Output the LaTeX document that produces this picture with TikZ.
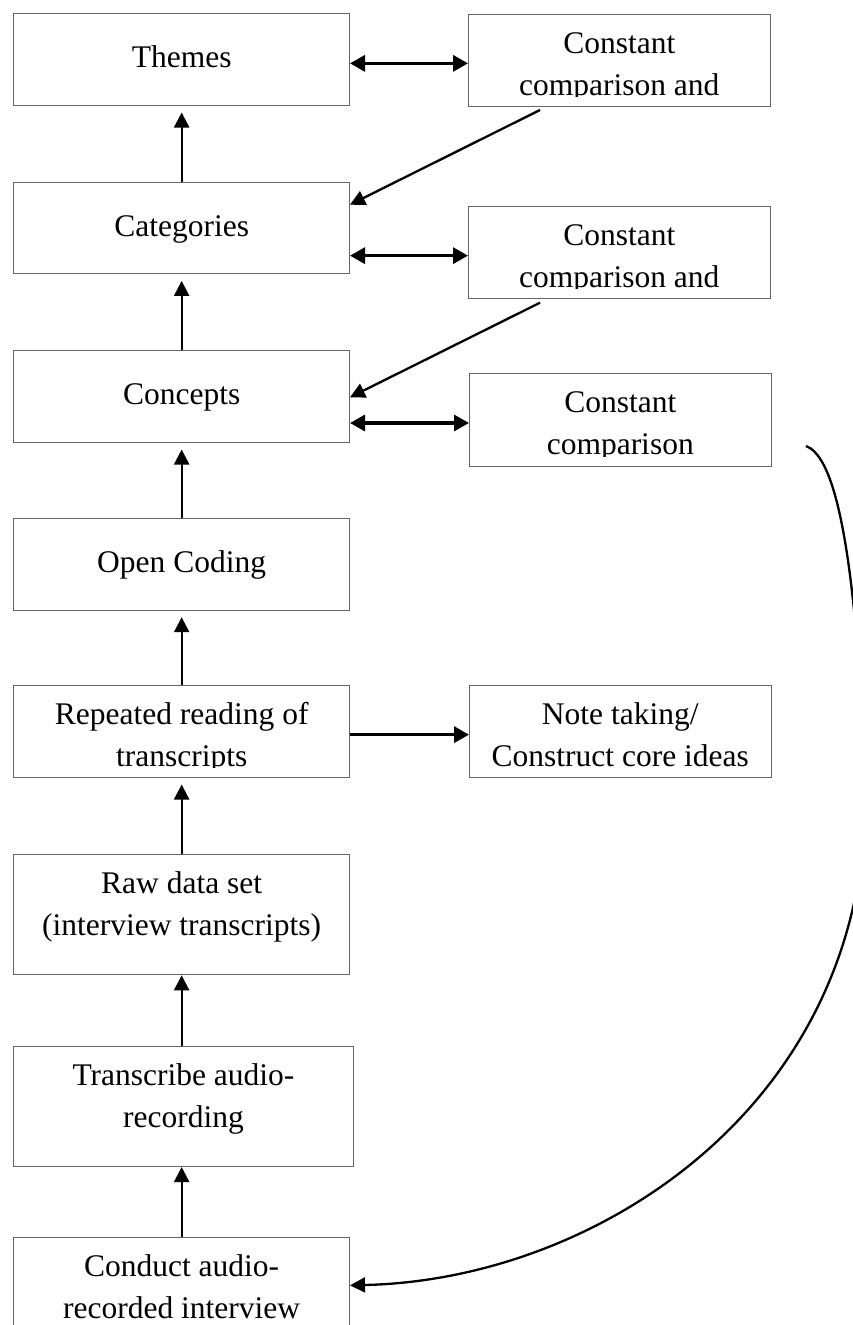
\documentclass[tikz,border=0pt]{standalone}
\usepackage{fontspec}
\setmainfont{Liberation Serif}
\usetikzlibrary{arrows.meta}
\tikzset{
  txt/.style={font=\fontsize{31.5}{41}\selectfont, inner sep=0pt, anchor=base},
  box/.style={draw=black!60, line width=1pt, rectangle, inner sep=0pt, anchor=north west},
  lbox/.style={box, minimum width=335.7pt, minimum height=91.7pt},
  rbox/.style={box, minimum width=301.5pt, minimum height=91.7pt},
  one/.style n args={2}{path picture={\node[txt] (#1a) at ([yshift=-54pt]path picture bounding box.north) {#2};}},
  two/.style n args={3}{path picture={
      \clip (path picture bounding box.north west) rectangle ([yshift=10pt]path picture bounding box.south east);
      \node[txt] (#1a) at ([yshift=-39pt]path picture bounding box.north) {#2};
      \node[txt] (#1b) at ([yshift=-80.5pt]path picture bounding box.north) {#3};}},
  arr/.style={line width=2.3pt, -{Triangle[length=15pt,width=15pt]}},
  harr/.style={line width=3.3pt, -{Triangle[length=15pt,width=16pt]}},
  darr/.style={line width=3.3pt, {Triangle[length=15pt,width=16pt]}-{Triangle[length=15pt,width=16pt]}},
}
\begin{document}
\begin{tikzpicture}[x=1pt,y=-1pt]
\useasboundingbox (0,0) rectangle (853,1325);
\clip (0,0) rectangle (853,1325);
\fill[white] (0,0) rectangle (853,1325);

% left column
\node[lbox, one={th}{Themes}] (themes) at (13.3,13.3) {};
\node[lbox, one={ca}{Categories}] (cat) at (13.3,181.7) {};
\node[lbox, one={co}{Concepts}] (conc) at (13.3,350.3) {};
\node[lbox, one={oc}{Open Coding}] (open) at (13.3,518) {};
\node[lbox, two={rr}{Repeated reading of}{transcripts}] (rep) at (13.3,685.3) {};
\node[lbox, minimum height=120.3pt, two={rd}{Raw data set}{(interview transcripts)}] (raw) at (13.3,854) {};
\node[lbox, minimum width=340.6pt, minimum height=120pt, two={tr}{Transcribe audio-}{recording}] (trans) at (12.7,1046) {};
\node[lbox, minimum height=120pt, two={cd}{Conduct audio-}{recorded interview}] (conduct) at (13.3,1237.3) {};

% right column
\node[rbox, two={c1}{Constant}{comparison and}] (cc1) at (468,14) {};
\node[rbox, two={c2}{Constant}{comparison and}] (cc2) at (468,206.3) {};
\node[rbox, minimum height=92.4pt, two={c3}{Constant}{comparison}] (cc3) at (469,373.3) {};
\node[rbox, two={nt}{Note taking/}{Construct core ideas}] (note) at (469,685.3) {};

% vertical arrows
\draw[arr, shorten >=6.5pt] (cat.north) -- (themes.south);
\draw[arr, shorten >=6.5pt] (conc.north) -- (cat.south);
\draw[arr, shorten >=6.5pt] (open.north) -- (conc.south);
\draw[arr, shorten >=6.5pt] (rep.north) -- (open.south);
\draw[arr, shorten >=6.5pt] (raw.north) -- (rep.south);
\draw[arr] (raw.south |- trans.north) -- (raw.south);
\draw[arr] (conduct.north) -- (conduct.north |- trans.south);

% double arrows
\draw[darr] ([yshift=-3pt]cc1.west -| themes.east) -- ([yshift=-3pt]cc1.west);
\draw[darr] ([yshift=-3pt]cc2.west -| cat.east) -- ([yshift=-3pt]cc2.west);
\draw[darr] ([yshift=-3pt]cc3.west -| conc.east) -- ([yshift=-3pt]cc3.west);
\draw[harr] ([yshift=-3pt]note.west -| rep.east) -- ([yshift=-3pt]note.west);

% diagonal arrows
\coordinate (d1) at (540,110);
\coordinate (d2) at (540,302.7);
\draw[arr] (d1) -- ([yshift=-23pt]cat.north east);
\draw[arr] (d2) -- ([yshift=-47pt]conc.north east);

% feedback curve
\coordinate (cs) at (806,446);
\draw[arr] (cs) .. controls (830,455) and (855,520) .. (865,780)
  .. controls (875,1100) and (600,1280) .. ([yshift=-48pt]conduct.north east);
\end{tikzpicture}
\end{document}
